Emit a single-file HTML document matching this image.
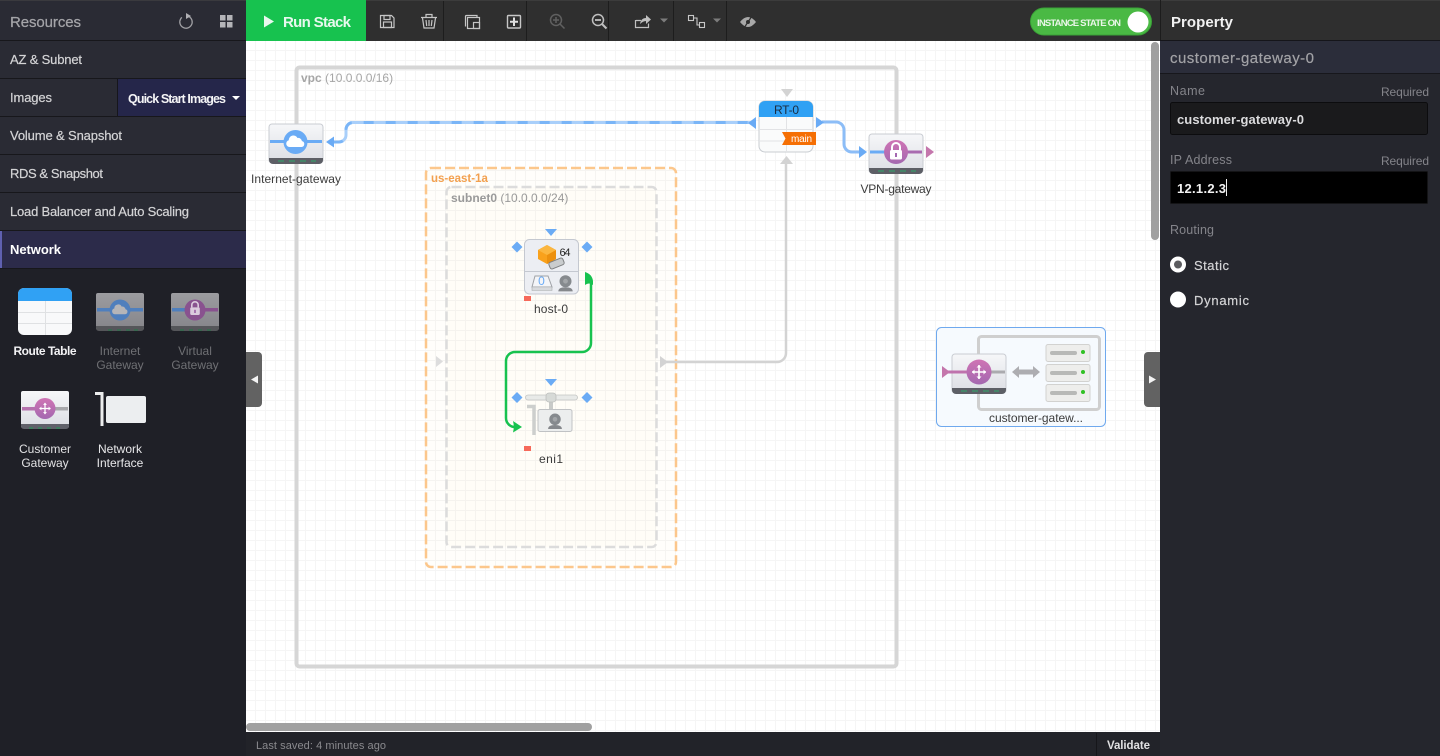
<!DOCTYPE html>
<html><head><meta charset="utf-8"><style>
html,body{margin:0;padding:0;background:#1f2027;width:1440px;height:756px;overflow:hidden}
svg{display:block;position:absolute;left:0;top:0}
text{font-family:"Liberation Sans",sans-serif}
</style></head><body>
<svg width="1440" height="756" viewBox="0 0 1440 756" xmlns="http://www.w3.org/2000/svg">
<defs>
<pattern id="g" width="10" height="10" patternUnits="userSpaceOnUse" x="246" y="41"><rect width="10" height="10" fill="#fff"/><path d="M9.5 0V10M0 9.500H10" stroke="#f5f5f5" stroke-width="1" fill="none"/></pattern>
<linearGradient id="gw" x1="0" y1="0" x2="0" y2="1"><stop offset="0" stop-color="#f6f7f9"/><stop offset="1" stop-color="#dcdee4"/></linearGradient>
<linearGradient id="gwd" x1="0" y1="0" x2="0" y2="1"><stop offset="0" stop-color="#9c9ca0"/><stop offset="1" stop-color="#85858a"/></linearGradient>
<linearGradient id="pur" x1="0" y1="0" x2="0" y2="1"><stop offset="0" stop-color="#cf74b4"/><stop offset="1" stop-color="#a468b0"/></linearGradient>
<g id="cross" fill="none" stroke="#fff" stroke-width="1.600"><path d="M-7 0H7M0 -7V7"/><path d="M-7 0l2.500-2.500v5zM7 0l-2.500-2.500v5zM0 -7l-2.500 2.500h5zM0 7l-2.500-2.500h5z" fill="#fff" stroke="none"/></g>
<path id="cloud" d="M-6 5a3.400 3.400 0 0 1-.7-6.700 4.600 4.600 0 0 1 8.700-2.300 3.900 3.900 0 0 1 4.500 3.100A3 3 0 0 1 6 5z"/>
<g id="lock"><path d="M-4 -2v-3a4 4 0 0 1 8 0v3" fill="none" stroke="#fff" stroke-width="2"/><rect x="-6" y="-2" width="12" height="9.500" rx="1.500" fill="#fff"/><rect x="-1" y="1" width="2" height="4" fill="#a468b0"/></g>
<g id="cam"><circle cx="0" cy="-1.500" r="5" fill="#868a8e"/><circle cx="0" cy="-1.500" r="2" fill="#a3a6a9"/><path d="M-6 7q0-3.500 6-3.500t6 3.500z" fill="#85888c"/></g>
</defs>

<!-- canvas -->
<rect x="246" y="41" width="914" height="691" fill="url(#g)"/>

<!-- left panel -->
<rect x="0" y="0" width="246" height="756" fill="#1f2027"/>
<rect x="0" y="0" width="246" height="268" fill="#2a2b34"/>
<rect x="0" y="0" width="246" height="1" fill="#3a3a3e"/>
<g fill="#17171b">
<rect y="40" width="246" height="1"/><rect y="78" width="246" height="1"/><rect y="116" width="246" height="1"/><rect y="154" width="246" height="1"/><rect y="192" width="246" height="1"/><rect y="230" width="246" height="1"/><rect y="268" width="246" height="1"/>
</g>
<text x="10" y="27" font-size="15" fill="#a4a4a8" stroke="#a4a4a8" stroke-width=".25" textLength="71">Resources</text>
<circle cx="186" cy="22" r="6.200" fill="none" stroke="#a0a0a4" stroke-width="1.300" stroke-dasharray="31 8" transform="rotate(-60 186 22)"/>
<path d="M186 13l5 3-5 3z" fill="#b0b0b4"/>
<g fill="#b4b4b8"><rect x="220" y="15" width="5.500" height="5.500"/><rect x="227" y="15" width="5.500" height="5.500"/><rect x="220" y="22" width="5.500" height="5.500"/><rect x="227" y="22" width="5.500" height="5.500"/></g>
<g font-size="13" fill="#d4d4d6" stroke="#d4d4d6" stroke-width=".2">
<text x="10" y="64" textLength="72">AZ &amp; Subnet</text>
<text x="10" y="102" textLength="42">Images</text>
<text x="10" y="140" textLength="112">Volume &amp; Snapshot</text>
<text x="10" y="178" textLength="93">RDS &amp; Snapshot</text>
<text x="10" y="216" textLength="179">Load Balancer and Auto Scaling</text>
</g>
<rect x="117" y="79" width="129" height="37" fill="#25264a"/>
<rect x="117" y="79" width="1" height="37" fill="#16161c"/>
<text x="128" y="103" font-size="12.500" fill="#f4f4f6" font-weight="bold" textLength="98">Quick Start Images</text>
<path d="M232 96h8l-4 4z" fill="#fff"/>
<rect x="0" y="231" width="246" height="37" fill="#2c2b4a"/>
<rect x="0" y="231" width="2" height="37" fill="#5f60b0"/>
<text x="10" y="254" font-size="13" fill="#fff" font-weight="bold" textLength="51">Network</text>

<!-- palette -->
<g>
<rect x="18" y="288" width="54" height="47" rx="6" fill="#f8f9fa"/>
<path d="M18 301v-7a6 6 0 0 1 6-6h42a6 6 0 0 1 6 6v7z" fill="#30a1f4"/>
<path d="M18 312.500H72M18 323.500H72M45.500 301V335" stroke="#dfe1e3"/>
<text x="45" y="355" font-size="12" fill="#f2f2f4" text-anchor="middle" font-weight="bold" textLength="63">Route Table</text>
</g>
<g>
<rect x="96" y="293" width="48" height="37" rx="2" fill="url(#gwd)"/>
<path d="M96 326h48v2a3 3 0 0 1-3 3H99a3 3 0 0 1-3-3z" fill="#55565a"/>
<path d="M108 330h4M117 330h4M126 330h4M134 330h4" stroke="#1f7a46"/>
<rect x="97" y="308" width="46" height="3.500" fill="#4f7fbd"/>
<circle cx="120" cy="310" r="10.500" fill="#4f7fbd"/>
<use href="#cloud" transform="translate(120 310) scale(.85)" fill="#b5b5b8"/>
<text font-size="12" fill="#6f7074" text-anchor="middle"><tspan x="120" y="355">Internet</tspan><tspan x="120" y="369">Gateway</tspan></text>
</g>
<g>
<rect x="171" y="293" width="48" height="37" rx="2" fill="url(#gwd)"/>
<path d="M171 326h48v2a3 3 0 0 1-3 3h-42a3 3 0 0 1-3-3z" fill="#55565a"/>
<path d="M180 330h4M189 330h4M198 330h4M207 330h4" stroke="#1f7a46"/>
<rect x="172" y="308" width="23" height="3.500" fill="#4f7fbd"/><rect x="195" y="308" width="23" height="3.500" fill="#89528f"/>
<circle cx="195" cy="310" r="10.500" fill="#89528f"/>
<use href="#lock" transform="translate(195 309) scale(.8)" opacity=".7"/>
<text font-size="12" fill="#6f7074" text-anchor="middle"><tspan x="195" y="355">Virtual</tspan><tspan x="195" y="369">Gateway</tspan></text>
</g>
<g>
<rect x="21" y="391" width="48" height="37" rx="2" fill="url(#gw)"/>
<path d="M21 424h48v2a3 3 0 0 1-3 3H24a3 3 0 0 1-3-3z" fill="#60616a"/>
<path d="M29 428h4M38 428h4M47 428h4M56 428h4" stroke="#1f9a56"/>
<rect x="22" y="407" width="23" height="3.500" fill="#b572ae"/><rect x="45" y="407" width="23" height="3.500" fill="#a8a8ac"/>
<circle cx="45" cy="408.500" r="10.500" fill="url(#pur)"/>
<use href="#cross" transform="translate(45 408.500) scale(.8)"/>
<text font-size="12" fill="#e2e2e4" text-anchor="middle"><tspan x="45" y="453">Customer</tspan><tspan x="45" y="467">Gateway</tspan></text>
</g>
<g>
<path d="M95 393.500h7V426" fill="none" stroke="#eceded" stroke-width="3"/>
<rect x="106" y="396" width="40" height="27" rx="2" fill="#eceef0"/>
<text font-size="12" fill="#e8e8ea" text-anchor="middle"><tspan x="120" y="453">Network</tspan><tspan x="120" y="467">Interface</tspan></text>
</g>

<!-- top bar -->
<rect x="246" y="0" width="915" height="41" fill="#2f2f2f"/>
<rect x="246" y="0" width="915" height="1" fill="#3c3c3c"/>
<rect x="246" y="0" width="120" height="41" fill="#17c24f"/>
<path d="M264 15.500l10 6-10 6z" fill="#e8f8ee"/>
<text x="283" y="27" font-size="15" fill="#e8f8ee" font-weight="bold" textLength="68">Run Stack</text>
<g fill="#1d1d1d"><rect x="443" y="1" width="1" height="40"/><rect x="526" y="1" width="1" height="40"/><rect x="608" y="1" width="1" height="40"/><rect x="673" y="1" width="1" height="40"/><rect x="726" y="1" width="1" height="40"/></g>
<!-- icons -->
<g fill="none" stroke="#c6c6c6" stroke-width="1.200">
<path d="M380.500 15.500h11l2.500 2.500v9.500h-13.500z"/><rect x="384" y="15.500" width="6" height="4"/><rect x="383.500" y="22" width="8" height="5.500"/>
<path d="M422.500 18l1.500 10h10l1.500-10"/><path d="M421 17.500h16M426 17v-2.500h6V17M426 20l.7 6M429 20v6M432 20l-.7 6"/>
<rect x="467.500" y="17.500" width="12" height="11"/>
<path d="M465.500 26.500v-10a1 1 0 0 1 1-1h10.500v2"/>
<rect x="473.500" y="22.500" width="6" height="6"/>
<rect x="507.500" y="15.500" width="13" height="12.500" rx="1" stroke-width="1.400"/>
</g>
<path d="M514 17.500v8.500M510 21.700h8" stroke="#e0e0e0" stroke-width="2"/>
<g fill="none" stroke="#606060" stroke-width="1.500"><circle cx="556" cy="20" r="5.500"/><path d="M560 24l4.500 4.500M553 20h6M556 17v6"/></g>
<g fill="none" stroke="#c0c0c0" stroke-width="1.500"><circle cx="598" cy="20" r="5.500"/><path d="M602 24l4.500 4.500" stroke-width="2"/><path d="M595 20h6" stroke-width="1.800"/></g>
<path d="M636 20.500h5M635.500 20v7.500h13v-4" fill="none" stroke="#c0c0c0" stroke-width="1.200"/>
<path d="M640 24q1-6 6-6v-3l5 4.500-5 4.500v-3q-3 0-6 3z" fill="#c0c0c0"/>
<path d="M660 18.500h8l-4 4z" fill="#7c7c7c"/>
<g fill="none" stroke="#c8c8c8" stroke-width="1.100"><rect x="688.500" y="15.500" width="5" height="5"/><rect x="699.500" y="22.500" width="5" height="5"/><path d="M693.500 18h3.500v7h2.500"/></g>
<path d="M713 18.500h8l-4 4z" fill="#7c7c7c"/>
<path d="M740 22q8-10 16 0-8 10-16 0z" fill="#a8a8a8"/>
<circle cx="748" cy="22" r="2" fill="#2f2f2f"/><path d="M744 28l8-12" stroke="#2f2f2f" stroke-width="1.200"/>
<!-- toggle -->
<rect x="1030.500" y="8" width="121" height="27" rx="13.500" fill="#4ab944" stroke="#3aa337"/>
<text x="1037" y="26" font-size="9.500" fill="#eaf6e9" font-weight="bold" textLength="84">INSTANCE STATE ON</text>
<circle cx="1138" cy="22" r="10.500" fill="#fff"/>

<!-- VPC group -->
<rect x="296.500" y="67.500" width="600" height="599" rx="3" fill="none" stroke="#d6d6d6" stroke-width="4"/>
<text x="301" y="82" font-size="12" fill="#a6a6a6"><tspan font-weight="bold">vpc</tspan> (10.0.0.0/16)</text>
<!-- az -->
<rect x="426" y="168" width="250" height="399" rx="5" fill="#ffeccd" fill-opacity=".08" stroke="#fcc78c" stroke-width="2.500" stroke-dasharray="10 4"/>
<text x="431" y="182" font-size="11.500" fill="#f3a04e" font-weight="bold">us-east-1a</text>
<rect x="446.500" y="187" width="210" height="360" rx="5" fill="#ffeccd" fill-opacity=".08" stroke="#dcdcdc" stroke-width="2.500" stroke-dasharray="10 4"/>
<text x="451" y="202" font-size="12" fill="#9a9a9a"><tspan font-weight="bold">subnet0</tspan> (10.0.0.0/24)</text>
<path d="M436 356l7 5.500-7 5.500z" fill="#dddddd"/>
<!-- connectors -->
<path d="M664 362H777a9 9 0 0 0 9-9V160" fill="none" stroke="#d3d3d3" stroke-width="2.500"/>
<path d="M660 356l8 6-8 6z" fill="#d3d3d3"/>
<path d="M780 164l6.500-8 6.500 8z" fill="#d3d3d3"/>
<path d="M781 89h12l-6 8z" fill="#d3d3d3"/>
<path d="M333 142H339a7 7 0 0 0 7-7V129.500a7 7 0 0 1 7-7H752" fill="none" stroke="#a9cffa" stroke-width="3"/>
<path d="M333 142H339a7 7 0 0 0 7-7V129.500a7 7 0 0 1 7-7H752" fill="none" stroke="#7ab5f7" stroke-width="3" stroke-dasharray="10 12"/>
<path d="M326 142l8-5.500v11z" fill="#6aabf5"/>
<path d="M748 123l8-6v12z" fill="#6aabf5"/>
<path d="M822 122H836a8 8 0 0 1 8 8V144a8 8 0 0 0 8 8h8" fill="none" stroke="#8cbdf7" stroke-width="3"/>
<path d="M816 117l8 5.500-8 5.500z" fill="#6aabf5"/>
<path d="M859 146l8 6-8 6z" fill="#6aabf5"/>
<path d="M591 280V343a9 9 0 0 1-9 9H515a9 9 0 0 0-9 9V418a9 9 0 0 0 9 9h4" fill="none" stroke="#17c24f" stroke-width="2.500"/>
<path d="M585 285V272q7 2 8 9v4q-4-3-8 0z" fill="#17c24f"/>
<path d="M513 421l9 6-9 5.500q1.500-5.500 0-11.500z" fill="#17c24f"/>

<!-- Internet gateway -->
<rect x="269" y="124" width="54" height="39" rx="3" fill="url(#gw)" stroke="#c9ccd2"/>
<path d="M269 158h54v2a4 4 0 0 1-4 4H273a4 4 0 0 1-4-4z" fill="#5d5f66"/>
<path d="M278 161h6M289 161h6M300 161h6M311 161h5" stroke="#2fa86b" stroke-width="1"/>
<rect x="270" y="140" width="52" height="3" fill="#6aabf5"/>
<circle cx="295.500" cy="142" r="12" fill="#6aabf5"/>
<use href="#cloud" transform="translate(295.500 142)" fill="#fff"/>
<text x="296" y="183" font-size="12" fill="#3c3c3c" text-anchor="middle" textLength="90">Internet-gateway</text>

<!-- RT -->
<rect x="759" y="101" width="54" height="51" rx="6" fill="#fafbfb" stroke="#c9cdd2"/>
<path d="M759 117v-10a6 6 0 0 1 6-6h42a6 6 0 0 1 6 6v10z" fill="#30a1f4"/>
<path d="M759 129.500H813M759 141H813M786.500 117V152" stroke="#e2e3e5"/>
<text x="786.500" y="114" font-size="12" fill="#1a2c40" text-anchor="middle" textLength="25">RT-0</text>
<path d="M782 132h34v13h-34l3.500-6.500z" fill="#f56f04"/>
<text x="791" y="142" font-size="10" fill="#fff" textLength="21">main</text>

<!-- VPN -->
<rect x="869" y="134" width="54" height="39" rx="3" fill="url(#gw)" stroke="#c9ccd2"/>
<path d="M869 168h54v2a4 4 0 0 1-4 4H873a4 4 0 0 1-4-4z" fill="#5d5f66"/>
<path d="M878 171h6M889 171h6M900 171h6M911 171h5" stroke="#2fa86b"/>
<rect x="870" y="150.500" width="26" height="3" fill="#6aabf5"/><rect x="896" y="150.500" width="26" height="3" fill="#a96bb0"/>
<circle cx="896" cy="152" r="12" fill="url(#pur)"/>
<use href="#lock" transform="translate(896 152)"/>
<path d="M926 146l8 6-8 6z" fill="#c476ac"/>
<text x="896" y="193" font-size="12" fill="#3c3c3c" text-anchor="middle" textLength="71">VPN-gateway</text>

<!-- host-0 -->
<path d="M545 229h12l-6 7z" fill="#6aabf5"/>
<path d="M517 241.500l5.500 5.500-5.500 5.500-5.500-5.500zM587 241.500l5.500 5.500-5.500 5.500-5.500-5.500z" fill="#6aabf5"/>
<rect x="524.500" y="239.500" width="54" height="54.500" rx="5" fill="#eceef3" stroke="#c4c8d0"/>
<path d="M525 271.500H578" stroke="#c4c8d0"/>
<path d="M547 245l9 5v9l-9 5-9-5v-9z" fill="#f9a11b"/><path d="M547 255l9-5v9l-9 5z" fill="#ec900e"/><path d="M547 245l9 5-9 5-9-5z" fill="#fbb63f"/>
<rect x="-7.500" y="-3.500" width="15" height="7" rx="2" fill="#c9ccce" stroke="#7d7f81" transform="translate(556.500 263.500) rotate(-22)"/>
<text x="565" y="256" font-size="11" fill="#222" text-anchor="middle" textLength="11">64</text>
<path d="M535 276h13l4 11h-20z" fill="#f4f5f8" stroke="#9ea1a6"/>
<path d="M532 287h20v3.500h-20z" fill="#d8dadd" stroke="#a8abae" stroke-width=".6"/>
<text x="541.500" y="285" font-size="12" fill="#6aabf5" text-anchor="middle">0</text>
<use href="#cam" transform="translate(565.500 283) scale(1.200)"/>
<rect x="524" y="296" width="7" height="5" fill="#f6695a"/>
<text x="551" y="313" font-size="12" fill="#3c3c3c" text-anchor="middle" textLength="34">host-0</text>

<!-- eni1 -->
<path d="M545 379h12l-6 7z" fill="#6aabf5"/>
<path d="M517 392l5.500 5.500-5.500 5.500-5.500-5.500zM587 392l5.500 5.500-5.500 5.500-5.500-5.500z" fill="#6aabf5"/>
<rect x="525.500" y="395" width="52" height="5" rx="2.500" fill="#e8eae8" stroke="#c2c4c2" stroke-width=".8"/>
<path d="M551 400v9" stroke="#c8cac8" stroke-width="4"/>
<rect x="546" y="393" width="10" height="9" rx="3" fill="#d7dad7" stroke="#bdbfbd" stroke-width=".8"/>
<path d="M527 406.500h7V435" fill="none" stroke="#cdcfcd" stroke-width="3.500"/>
<rect x="538" y="409.500" width="34" height="22" rx="2" fill="#eceeee" stroke="#c0c2c4"/>
<use href="#cam" transform="translate(555 421) scale(1.150)"/>
<rect x="524" y="446" width="7" height="5" fill="#f6695a"/>
<text x="551" y="463" font-size="12" fill="#3c3c3c" text-anchor="middle" textLength="24">eni1</text>

<!-- customer gateway -->
<rect x="936.500" y="327.500" width="169" height="99" rx="5" fill="#f6fafe" stroke="#6fa9ee"/>
<rect x="978.500" y="336.500" width="121" height="73" rx="3" fill="none" stroke="#cfcfcf" stroke-width="3"/>
<rect x="952" y="354" width="54" height="39" rx="3" fill="url(#gw)" stroke="#c9ccd2"/>
<path d="M952 388h54v2a4 4 0 0 1-4 4H956a4 4 0 0 1-4-4z" fill="#5d5f66"/>
<path d="M961 391h6M972 391h6M983 391h6M994 391h5" stroke="#2fa86b"/>
<rect x="948" y="370.500" width="31" height="3" fill="#bf72ad"/><rect x="979" y="370.500" width="26" height="3" fill="#ababaf"/>
<circle cx="979" cy="372" r="12.500" fill="url(#pur)"/>
<use href="#cross" transform="translate(979 372)"/>
<path d="M942 366l8 6-8 6z" fill="#c476ac"/>
<path d="M1012 372l7-6v3.500h14v-3.500l7 6-7 6v-3.500h-14v3.500z" fill="#adadb1"/>
<g>
<rect x="1046" y="344.500" width="44" height="17" rx="2" fill="#eeeeec" stroke="#d2d2d0"/><rect x="1050" y="351" width="27" height="4" rx="2" fill="#b8b9b7"/><circle cx="1083" cy="352" r="2" fill="#31c125"/>
<rect x="1046" y="364.500" width="44" height="17" rx="2" fill="#eeeeec" stroke="#d2d2d0"/><rect x="1050" y="371" width="27" height="4" rx="2" fill="#b8b9b7"/><circle cx="1083" cy="372" r="2" fill="#31c125"/>
<rect x="1046" y="384.500" width="44" height="17" rx="2" fill="#eeeeec" stroke="#d2d2d0"/><rect x="1050" y="391" width="27" height="4" rx="2" fill="#b8b9b7"/><circle cx="1083" cy="392" r="2" fill="#31c125"/>
</g>
<text x="989" y="422" font-size="12" fill="#3c3c3c" textLength="94">customer-gatew...</text>

<!-- handles -->
<path d="M246 352h12a4 4 0 0 1 4 4v47a4 4 0 0 1-4 4h-12z" fill="#626262"/>
<path d="M251 379.500l7-4v8z" fill="#f4f4f4"/>
<path d="M1160 352h-12a4 4 0 0 0-4 4v47a4 4 0 0 0 4 4h12z" fill="#626262"/>
<path d="M1156 379.500l-7-4v8z" fill="#f4f4f4"/>

<!-- scrollbars -->
<rect x="1151" y="42" width="8" height="198" rx="4" fill="#a0a0a0"/>
<rect x="246" y="723" width="346" height="8" rx="4" fill="#a0a0a0"/>

<!-- status bar -->
<rect x="246" y="732" width="915" height="24" fill="#222329"/>
<text x="256" y="749" font-size="11" fill="#8a8a8e" textLength="130">Last saved: 4 minutes ago</text>
<rect x="1096" y="733" width="1" height="23" fill="#16161a"/>
<text x="1107" y="749" font-size="11.500" fill="#e0e0e2" font-weight="bold" textLength="43">Validate</text>

<!-- right panel -->
<rect x="1160" y="0" width="280" height="756" fill="#25262d"/>
<rect x="1160" y="0" width="280" height="40" fill="#2f2f2f"/>
<rect x="1160" y="0" width="280" height="1" fill="#3c3c3c"/>
<rect x="1160" y="0" width="1" height="40" fill="#1c1c1c"/>
<rect x="1160" y="40" width="280" height="1" fill="#15151a"/>
<text x="1171" y="27" font-size="15" fill="#f2f2f2" font-weight="bold" textLength="62">Property</text>
<rect x="1160" y="41" width="280" height="32" fill="#2b2d3a"/>
<rect x="1160" y="73" width="280" height="1" fill="#17171c"/>
<text x="1170" y="63" font-size="15" fill="#a2a2a6" stroke="#a2a2a6" stroke-width=".2" textLength="144">customer-gateway-0</text>
<g font-size="12.500" fill="#84848a">
<text x="1170" y="95" textLength="35">Name</text>
<text x="1381" y="96" font-size="12" textLength="48">Required</text>
<text x="1170" y="164" textLength="62">IP Address</text>
<text x="1381" y="165" font-size="12" textLength="48">Required</text>
<text x="1170" y="234" textLength="44">Routing</text>
</g>
<rect x="1170.500" y="102.500" width="257" height="32" rx="2" fill="#1a1a1c" stroke="#0c0c0e"/>
<text x="1177" y="124" font-size="13" fill="#dcdcde" font-weight="bold" textLength="127">customer-gateway-0</text>
<rect x="1170.500" y="171.500" width="257" height="32" rx="1" fill="#000" stroke="#141416"/>
<text x="1177" y="193" font-size="13" fill="#f2f2f2" font-weight="bold" textLength="49">12.1.2.3</text>
<rect x="1226" y="179" width="1" height="17" fill="#eee"/>
<circle cx="1178" cy="264.500" r="8" fill="#fff"/><circle cx="1178" cy="264.500" r="4" fill="#5c5c60"/>
<text x="1194" y="270" font-size="13" fill="#d4d4d6" stroke="#d4d4d6" stroke-width=".2" textLength="35">Static</text>
<circle cx="1178" cy="299.500" r="8" fill="#fff"/>
<text x="1194" y="305" font-size="13" fill="#d4d4d6" stroke="#d4d4d6" stroke-width=".2" textLength="55">Dynamic</text>
</svg>
</body></html>
